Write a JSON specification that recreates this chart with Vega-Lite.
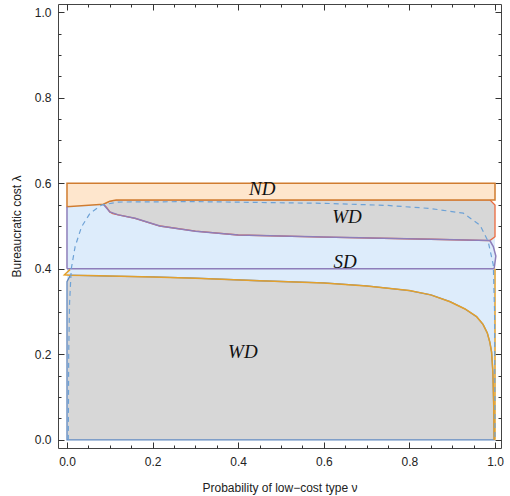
{
  "$schema": "https://vega.github.io/schema/vega-lite/v6.json",
  "width": 443,
  "height": 444,
  "autosize": {"type": "none"},
  "padding": {"left": 58, "top": 4, "right": 9, "bottom": 48},
  "config": {"view": {"stroke": "#444", "strokeWidth": 1}, "axis": {"grid": false, "domain": false, "tickColor": "#333", "tickWidth": 1}},
  "resolve": {"axis": {"x": "independent", "y": "independent"}},
  "layer": [
    {
      "data": {"values": [
        {"x": 0, "y": 0.545, "y2": 0},
        {"x": 0.085, "y": 0.551, "y2": 0},
        {"x": 0.1, "y": 0.558, "y2": 0},
        {"x": 0.115, "y": 0.561, "y2": 0},
        {"x": 0.988, "y": 0.561, "y2": 0},
        {"x": 1, "y": 0.549, "y2": 0}
      ]},
      "mark": {"type": "area", "orient": "vertical", "color": "#DDECFB"},
      "encoding": {
        "x": {"field": "x", "type": "quantitative",
          "scale": {"domain": [-0.021, 1.014], "nice": false, "zero": false},
          "axis": {"orient": "bottom", "title": "Probability of low\u2212cost type  \u03bd",
            "values": [0, 0.2, 0.4, 0.6, 0.8, 1], "format": ".1f",
            "tickSize": 6, "offset": -6,
            "labelPadding": 8, "labelFlush": false, "labelOverlap": false,
            "labelColor": "#222", "labelFont": "Liberation Sans", "labelFontSize": 12,
            "titleFont": "Liberation Sans", "titleFontSize": 12, "titleFontWeight": "normal", "titleColor": "#222", "titlePadding": 15}},
        "y": {"field": "y", "type": "quantitative",
          "scale": {"domain": [-0.019, 1.019], "nice": false, "zero": false},
          "axis": {"orient": "left", "title": "Bureaucratic cost  \u03bb",
            "values": [0, 0.2, 0.4, 0.6, 0.8, 1], "format": ".1f",
            "tickSize": 6, "offset": -6,
            "labelPadding": 7, "labelFlush": false, "labelOverlap": false,
            "labelColor": "#222", "labelFont": "Liberation Sans", "labelFontSize": 12,
            "titleFont": "Liberation Sans", "titleFontSize": 12, "titleFontWeight": "normal", "titleColor": "#222", "titlePadding": 11}},
        "y2": {"field": "y2"}
      }
    },
    {
      "data": {"values": [
        {"x": 0, "y": 0.37, "y2": 0},
        {"x": 0.008, "y": 0.385, "y2": 0},
        {"x": 0.05, "y": 0.384, "y2": 0},
        {"x": 0.1, "y": 0.383, "y2": 0},
        {"x": 0.2, "y": 0.381, "y2": 0},
        {"x": 0.3, "y": 0.378, "y2": 0},
        {"x": 0.45, "y": 0.372, "y2": 0},
        {"x": 0.6, "y": 0.367, "y2": 0},
        {"x": 0.7, "y": 0.36, "y2": 0},
        {"x": 0.8, "y": 0.349, "y2": 0},
        {"x": 0.85, "y": 0.339, "y2": 0},
        {"x": 0.895, "y": 0.323, "y2": 0},
        {"x": 0.93, "y": 0.306, "y2": 0},
        {"x": 0.957, "y": 0.288, "y2": 0},
        {"x": 0.972, "y": 0.27, "y2": 0},
        {"x": 0.982, "y": 0.25, "y2": 0},
        {"x": 0.988, "y": 0.228, "y2": 0},
        {"x": 0.992, "y": 0.205, "y2": 0},
        {"x": 0.995, "y": 0.16, "y2": 0},
        {"x": 0.997, "y": 0.08, "y2": 0},
        {"x": 0.998, "y": 0, "y2": 0}
      ]},
      "mark": {"type": "area", "orient": "vertical", "fill": "#D7D7D7", "stroke": "#6189C0", "strokeWidth": 1.3},
      "encoding": {
        "x": {"field": "x", "type": "quantitative",
          "axis": {"orient": "bottom", "title": null, "labels": false,
            "values": [0.05,0.1,0.15,0.25,0.3,0.35,0.45,0.5,0.55,0.65,0.7,0.75,0.85,0.9,0.95],
            "tickSize": 3, "offset": -3}},
        "y": {"field": "y", "type": "quantitative",
          "axis": {"orient": "left", "title": null, "labels": false,
            "values": [0.05,0.1,0.15,0.25,0.3,0.35,0.45,0.5,0.55,0.65,0.7,0.75,0.85,0.9,0.95],
            "tickSize": 3, "offset": -3}},
        "y2": {"field": "y2"}
      }
    },
    {
      "data": {"values": [
        {"x": 0.085, "y": 0.551, "y2": 0.551},
        {"x": 0.093, "y": 0.555, "y2": 0.543},
        {"x": 0.1, "y": 0.558, "y2": 0.533},
        {"x": 0.107, "y": 0.56, "y2": 0.529},
        {"x": 0.12, "y": 0.561, "y2": 0.526},
        {"x": 0.159, "y": 0.561, "y2": 0.518},
        {"x": 0.217, "y": 0.561, "y2": 0.5},
        {"x": 0.3, "y": 0.561, "y2": 0.488},
        {"x": 0.4, "y": 0.561, "y2": 0.479},
        {"x": 0.6, "y": 0.561, "y2": 0.474},
        {"x": 0.85, "y": 0.561, "y2": 0.469},
        {"x": 0.988, "y": 0.561, "y2": 0.466},
        {"x": 1.0, "y": 0.549, "y2": 0.475}
      ]},
      "mark": {"type": "area", "orient": "vertical", "fill": "#D7D7D7", "stroke": "#EB6A3E", "strokeWidth": 1.3},
      "encoding": {
        "x": {"field": "x", "type": "quantitative",
          "axis": {"orient": "top", "title": null, "labels": false,
            "values": [0, 0.2, 0.4, 0.6, 0.8, 1],
            "tickSize": 6, "offset": -6}},
        "y": {"field": "y", "type": "quantitative",
          "axis": {"orient": "right", "title": null, "labels": false,
            "values": [0, 0.2, 0.4, 0.6, 0.8, 1],
            "tickSize": 6, "offset": -6}},
        "y2": {"field": "y2"}
      }
    },
    {
      "data": {"values": [
        {"x": 0, "y": 0.6, "y2": 0.545},
        {"x": 0.085, "y": 0.6, "y2": 0.551},
        {"x": 0.1, "y": 0.6, "y2": 0.558},
        {"x": 0.115, "y": 0.6, "y2": 0.561},
        {"x": 1.0, "y": 0.6, "y2": 0.561}
      ]},
      "mark": {"type": "area", "orient": "vertical", "fill": "#FEE6CD", "stroke": "#D07C30", "strokeWidth": 1.5},
      "encoding": {
        "x": {"field": "x", "type": "quantitative",
          "axis": {"orient": "top", "title": null, "labels": false,
            "values": [0.05,0.1,0.15,0.25,0.3,0.35,0.45,0.5,0.55,0.65,0.7,0.75,0.85,0.9,0.95],
            "tickSize": 3, "offset": -3}},
        "y": {"field": "y", "type": "quantitative",
          "axis": {"orient": "right", "title": null, "labels": false,
            "values": [0.05,0.1,0.15,0.25,0.3,0.35,0.45,0.5,0.55,0.65,0.7,0.75,0.85,0.9,0.95],
            "tickSize": 3, "offset": -3}},
        "y2": {"field": "y2"}
      }
    },
    {
      "data": {"values": [
        {"seg": "a", "i": 0, "x": 0, "y": 0.4},
        {"seg": "a", "i": 1, "x": 0, "y": 0.545},
        {"seg": "b", "i": 0, "x": 0, "y": 0.4},
        {"seg": "b", "i": 1, "x": 0.998, "y": 0.4},
        {"seg": "c", "i": 0, "x": 0.085, "y": 0.551},
        {"seg": "c", "i": 1, "x": 0.1, "y": 0.533},
        {"seg": "c", "i": 2, "x": 0.12, "y": 0.526},
        {"seg": "c", "i": 3, "x": 0.159, "y": 0.518},
        {"seg": "c", "i": 4, "x": 0.217, "y": 0.5},
        {"seg": "c", "i": 5, "x": 0.3, "y": 0.488},
        {"seg": "c", "i": 6, "x": 0.4, "y": 0.479},
        {"seg": "c", "i": 7, "x": 0.6, "y": 0.474},
        {"seg": "c", "i": 8, "x": 0.85, "y": 0.469},
        {"seg": "c", "i": 9, "x": 0.988, "y": 0.466},
        {"seg": "c", "i": 10, "x": 0.996, "y": 0.452},
        {"seg": "c", "i": 11, "x": 1.002, "y": 0.43},
        {"seg": "c", "i": 12, "x": 0.998, "y": 0.4}
      ]},
      "mark": {"type": "line", "color": "#8E7EBA", "strokeWidth": 1.5},
      "encoding": {
        "x": {"field": "x", "type": "quantitative", "axis": null},
        "y": {"field": "y", "type": "quantitative", "axis": null},
        "detail": {"field": "seg"},
        "order": {"field": "i"}
      }
    },
    {
      "data": {"values": [
        {"seg": "d", "i": 0, "x": 0.007, "y": 0.398},
        {"seg": "d", "i": 1, "x": -0.006, "y": 0.386},
        {"seg": "d", "i": 2, "x": 0.008, "y": 0.385},
        {"seg": "d", "i": 3, "x": 0.05, "y": 0.384},
        {"seg": "d", "i": 4, "x": 0.1, "y": 0.383},
        {"seg": "d", "i": 5, "x": 0.2, "y": 0.381},
        {"seg": "d", "i": 6, "x": 0.3, "y": 0.378},
        {"seg": "d", "i": 7, "x": 0.45, "y": 0.372},
        {"seg": "d", "i": 8, "x": 0.6, "y": 0.367},
        {"seg": "d", "i": 9, "x": 0.7, "y": 0.36},
        {"seg": "d", "i": 10, "x": 0.8, "y": 0.349},
        {"seg": "d", "i": 11, "x": 0.85, "y": 0.339},
        {"seg": "d", "i": 12, "x": 0.895, "y": 0.323},
        {"seg": "d", "i": 13, "x": 0.93, "y": 0.306},
        {"seg": "d", "i": 14, "x": 0.957, "y": 0.288},
        {"seg": "d", "i": 15, "x": 0.972, "y": 0.27},
        {"seg": "d", "i": 16, "x": 0.982, "y": 0.25},
        {"seg": "d", "i": 17, "x": 0.988, "y": 0.228},
        {"seg": "d", "i": 18, "x": 0.992, "y": 0.205},
        {"seg": "d", "i": 19, "x": 0.995, "y": 0.16},
        {"seg": "d", "i": 20, "x": 0.997, "y": 0.08},
        {"seg": "d", "i": 21, "x": 0.998, "y": 0},
        {"seg": "e", "i": 0, "x": 1.0, "y": 0},
        {"seg": "e", "i": 1, "x": 1.0, "y": 0.4}
      ]},
      "mark": {"type": "line", "color": "#E3A02C", "strokeWidth": 1.5},
      "encoding": {
        "x": {"field": "x", "type": "quantitative", "axis": null},
        "y": {"field": "y", "type": "quantitative", "axis": null},
        "detail": {"field": "seg"},
        "order": {"field": "i"}
      }
    },
    {
      "data": {"values": [
        {"i": 0, "x": 0.003, "y": 0.0},
        {"i": 1, "x": 0.004, "y": 0.2},
        {"i": 2, "x": 0.006, "y": 0.32},
        {"i": 3, "x": 0.01, "y": 0.4},
        {"i": 4, "x": 0.019, "y": 0.452},
        {"i": 5, "x": 0.034, "y": 0.498},
        {"i": 6, "x": 0.054, "y": 0.53},
        {"i": 7, "x": 0.081, "y": 0.549},
        {"i": 8, "x": 0.12, "y": 0.556},
        {"i": 9, "x": 0.3, "y": 0.557},
        {"i": 10, "x": 0.6, "y": 0.553},
        {"i": 11, "x": 0.75, "y": 0.548},
        {"i": 12, "x": 0.848, "y": 0.541},
        {"i": 13, "x": 0.926, "y": 0.53},
        {"i": 14, "x": 0.965, "y": 0.502},
        {"i": 15, "x": 0.984, "y": 0.464},
        {"i": 16, "x": 0.996, "y": 0.409},
        {"i": 17, "x": 0.999, "y": 0.3},
        {"i": 18, "x": 1.0, "y": 0.0}
      ]},
      "mark": {"type": "line", "color": "#6EA2D6", "strokeWidth": 1.2, "strokeDash": [5, 4]},
      "encoding": {
        "x": {"field": "x", "type": "quantitative", "axis": null},
        "y": {"field": "y", "type": "quantitative", "axis": null},
        "order": {"field": "i"}
      }
    },
    {
      "data": {"values": [
        {"x": 0.456, "y": 0.586, "t": "ND"},
        {"x": 0.654, "y": 0.521, "t": "WD"},
        {"x": 0.65, "y": 0.416, "t": "SD"},
        {"x": 0.411, "y": 0.206, "t": "WD"}
      ]},
      "mark": {"type": "text", "font": "Liberation Serif", "fontStyle": "italic", "fontSize": 19, "color": "#111", "baseline": "middle", "align": "center"},
      "encoding": {
        "x": {"field": "x", "type": "quantitative", "axis": null},
        "y": {"field": "y", "type": "quantitative", "axis": null},
        "text": {"field": "t"}
      }
    }
  ]
}
